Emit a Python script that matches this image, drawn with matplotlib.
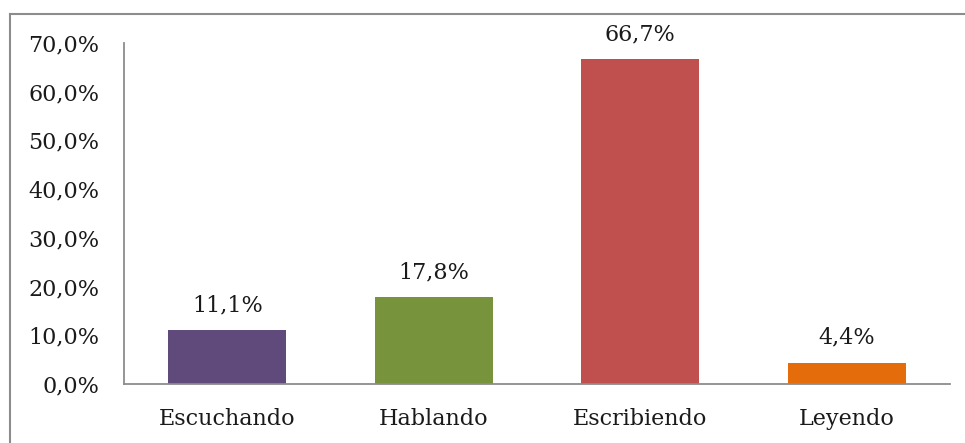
import matplotlib
matplotlib.use("Agg")
import matplotlib.pyplot as plt
from matplotlib.lines import Line2D

categories = ["Escuchando", "Hablando", "Escribiendo", "Leyendo"]
values = [11.1, 17.8, 66.7, 4.4]
colors = ["#604A7B", "#77933C", "#C0504D", "#E46C0A"]
yticks = [0, 10, 20, 30, 40, 50, 60, 70]
ytick_labels = ["0,0%", "10,0%", "20,0%", "30,0%", "40,0%", "50,0%", "60,0%", "70,0%"]
value_labels = ["11,1%", "17,8%", "66,7%", "4,4%"]

plt.rcParams['font.family'] = ['DejaVu Serif']
W, H = 965, 443
fig = plt.figure(figsize=(W/100, H/100), dpi=100)
ax = fig.add_axes([124/W, 1-384/H, (950-124)/W, (384-43)/H])

x = range(len(categories))
ax.bar(x, values, width=0.57, color=colors)
ax.set_xlim(-0.5, len(categories)-0.5)
ax.set_ylim(0, 70)
ax.set_yticks(yticks)
ax.set_yticklabels(ytick_labels)
ax.set_xticks(list(x))
ax.set_xticklabels(categories)
ax.tick_params(axis='y', length=0, pad=18, labelsize=16, labelcolor='#1a1a1a')
ax.tick_params(axis='x', length=0, pad=17, labelsize=16, labelcolor='#1a1a1a')
for s in ['top', 'right']:
    ax.spines[s].set_visible(False)
for s in ['left', 'bottom']:
    ax.spines[s].set_color('#8c8c8c')
    ax.spines[s].set_linewidth(1.3)

for xi, v, lab in zip(x, values, value_labels):
    ax.annotate(lab, (xi, v), xytext=(0, 10), textcoords='offset points',
                ha='center', va='bottom', fontsize=16, color='#1a1a1a')

# outer frame
fig.add_artist(Line2D([9.5/W, 9.5/W], [0, 1-13.5/H], transform=fig.transFigure, color='#8c8c8c', lw=1.5))
fig.add_artist(Line2D([9.5/W, 1], [1-13.5/H, 1-13.5/H], transform=fig.transFigure, color='#8c8c8c', lw=1.5))

fig.savefig("out.png", dpi=100)
